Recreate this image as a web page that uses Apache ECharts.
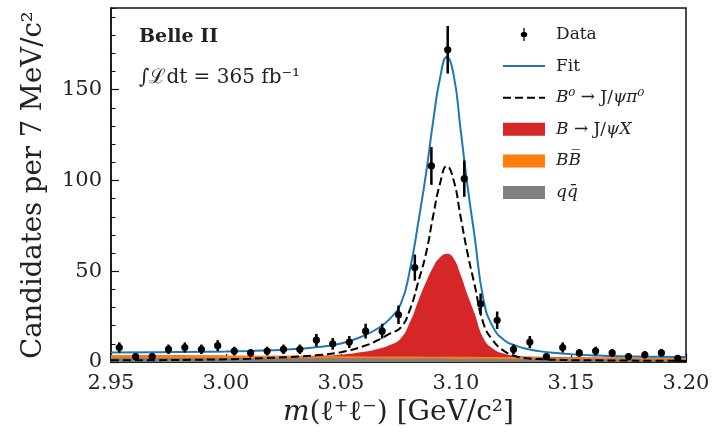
<!DOCTYPE html>
<html>
<head>
<meta charset="utf-8">
<script src="https://cdn.jsdelivr.net/npm/echarts@6/dist/echarts.min.js"></script>
<style>html,body{margin:0;padding:0;background:#fff}#c{width:720px;height:442px}</style>
</head>
<body>
<div id="c"></div>
<script>
// ---- Data ----
const binCenters = [2.9536,2.9607,2.9679,2.9750,2.9821,2.9893,2.9964,3.0036,3.0107,3.0179,3.0250,3.0321,3.0393,3.0464,3.0536,3.0607,3.0679,3.0750,3.0821,3.0893,3.0964,3.1036,3.1107,3.1179,3.1250,3.1321,3.1393,3.1464,3.1536,3.1607,3.1679,3.1750,3.1821,3.1893,3.1964];
const counts = [8,3,3,7,8,7,9,6,5,6,7,7,12,10,11,17,17,26,52,108,172,101,32,23,7,11,3,8,5,6,5,3,4,5,2];
const countErrors = [2.8,1.7,1.7,2.6,2.8,2.6,3.0,2.4,2.2,2.4,2.6,2.6,3.5,3.2,3.3,4.1,4.1,5.1,7.2,10.4,13.1,10.0,5.7,4.8,2.6,3.3,1.7,2.8,2.2,2.4,2.2,1.7,2.0,2.2,1.4];

const curveX = [2.95,2.97,2.99,3.00,3.01,3.02,3.03,3.04,3.05,3.06,3.066,3.071,3.076,3.080,3.084,3.087,3.090,3.093,3.096,3.099,3.102,3.105,3.108,3.112,3.116,3.121,3.126,3.131,3.136,3.141,3.151,3.161,3.171,3.185,3.20];
const fitTotal = [5.3,5.4,5.6,5.8,6.1,6.5,7.1,8.2,10.2,14.5,18.5,23.5,32,51,80,104,132,156,168,158,128,97,70,34,19.5,12,9,7.2,6.0,5.2,4.2,3.6,3.2,2.9,2.7];
const signalPi0 = [0.9,1.0,1.3,1.5,1.8,2.3,2.9,3.8,5.4,8.8,12,15.5,19,29,46,60,80,98,108,100,80,60,43,21,12,6,3.2,2.0,1.6,1.3,1.0,0.9,0.8,0.7,0.6];

const inclX = [2.95,3.00,3.03,3.04,3.05,3.06,3.066,3.071,3.076,3.080,3.084,3.087,3.090,3.093,3.096,3.099,3.102,3.105,3.108,3.112,3.116,3.121,3.126,3.131,3.14,3.20];
const inclTop = [3.8,3.5,3.4,3.5,4.0,5.6,7.2,9.2,13,22,35,44,52,57.5,59.6,57,48,37,27,13,7.5,4.5,3.4,3.0,2.8,2.2];

const bkgX = [2.95,3.00,3.05,3.10,3.15,3.20];
const bbTop = [3.8,3.5,3.2,2.9,2.5,2.2];
const qqTop = [2.4,2.2,2.0,1.8,1.5,1.3];

const xRange = [2.95, 3.20];
const yRange = [0, 195];

// ---- build ----
const pairs = (xs, ys) => xs.map((x, i) => [x, ys[i]]);
const dataPts = binCenters.map((x, i) => [x, counts[i], countErrors[i]]);
const serif = 'DejaVu Serif';

const chart = echarts.init(document.getElementById('c'), null, {renderer: 'canvas'});
chart.setOption({
  animation: false,
  backgroundColor: '#fff',
  grid: {left: 111, right: 34, top: 8, bottom: 80, show: true, borderColor: '#111', borderWidth: 1.5, backgroundColor: 'transparent'},
  xAxis: {
    type: 'value', min: xRange[0], max: xRange[1], interval: 0.05,
    name: '{i|m}(ℓ⁺ℓ⁻) [GeV/c²]', nameLocation: 'middle', nameGap: 36,
    nameTextStyle: {fontFamily: serif, fontSize: 28, color: '#222', rich: {i: {fontFamily: serif, fontStyle: 'italic', fontSize: 28, color: '#222'}}},
    axisLine: {show: true, lineStyle: {color: '#111', width: 1.5}},
    axisTick: {show: true, inside: true, length: 8, lineStyle: {color: '#111', width: 1.2}},
    minorTick: {show: true, splitNumber: 5, length: 4.5, lineStyle: {color: '#111', width: 1}},
    axisLabel: {fontFamily: serif, fontSize: 21, color: '#222', margin: 11, formatter: v => v.toFixed(2)},
    splitLine: {show: false}
  },
  yAxis: [{
    type: 'value', min: yRange[0], max: yRange[1], interval: 50,
    name: 'Candidates per 7 MeV/c²', nameLocation: 'middle', nameGap: 63,
    nameTextStyle: {fontFamily: serif, fontSize: 27.5, color: '#222'},
    axisLine: {show: true, lineStyle: {color: '#111', width: 1.5}},
    axisTick: {show: true, inside: true, length: 8, lineStyle: {color: '#111', width: 1.2}},
    axisLabel: {fontFamily: serif, fontSize: 21, color: '#222', margin: 9, showMaxLabel: false},
    splitLine: {show: false}
  }, {
    type: 'value', min: yRange[0], max: yRange[1], interval: 10, position: 'left',
    axisLine: {show: false},
    axisTick: {show: true, inside: true, length: 4.5, lineStyle: {color: '#111', width: 1}},
    axisLabel: {show: false}, splitLine: {show: false}
  }],
  legend: {
    orient: 'vertical', left: 497, top: 21, itemWidth: 42, itemHeight: 13, itemGap: 14.6,
    textStyle: {fontFamily: serif, fontSize: 17, color: '#222', padding: [0, 0, 0, 6],
      rich: {i: {fontFamily: serif, fontStyle: 'italic', fontSize: 17, color: '#222'}}},
    formatter: n => ({
      Data: 'Data', Fit: 'Fit',
      B0pi0: '{i|B⁰} → J/{i|ψπ⁰}',
      BX: '{i|B} → J/{i|ψX}',
      BB: '{i|BB\u0305}',
      qq: '{i|qq\u0304}'
    })[n],
    data: [
      {name: 'Data', icon: 'path://M3,0 L5,0 L5,6 A3.5,3.5 0 0 1 5,14 L5,20 L3,20 L3,14 A3.5,3.5 0 0 1 3,6 Z', itemStyle: {color: '#000'}},
      {name: 'Fit', itemStyle: {opacity: 0}},
      {name: 'B0pi0', itemStyle: {opacity: 0}},
      {name: 'BX', icon: 'rect', itemStyle: {color: '#d62728'}},
      {name: 'BB', icon: 'rect', itemStyle: {color: '#ff7f0e'}},
      {name: 'qq', icon: 'rect', itemStyle: {color: '#7f7f7f'}}
    ]
  },
  graphic: [
    {type: 'text', left: 139, top: 28, style: {text: 'Belle II', font: 'bold 19px "DejaVu Serif"', fill: '#222'}},
    {type: 'text', left: 139, top: 68, style: {text: '∫ℒdt = 365 fb⁻¹', font: '20px "DejaVu Serif"', fill: '#222'}}
  ],
  series: [
    {name: 'BX', type: 'line', data: pairs(inclX, inclTop), symbol: 'none', smooth: 0.5,
      color: '#d62728', lineStyle: {width: 0}, areaStyle: {color: '#d62728', opacity: 1}, z: 2},
    {name: 'BB', type: 'line', data: pairs(bkgX, bbTop), symbol: 'none', smooth: 0.3,
      color: '#ff7f0e', lineStyle: {width: 0}, areaStyle: {color: '#ff7f0e', opacity: 1}, z: 3},
    {name: 'qq', type: 'line', data: pairs(bkgX, qqTop), symbol: 'none', smooth: 0.3,
      color: '#7f7f7f', lineStyle: {width: 0}, areaStyle: {color: '#7f7f7f', opacity: 1}, z: 4},
    {name: 'B0pi0', type: 'line', data: pairs(curveX, signalPi0), symbol: 'none', smooth: 0.5,
      color: '#000', lineStyle: {color: '#000', width: 2, type: [8, 4]}, z: 5},
    {name: 'Fit', type: 'line', data: pairs(curveX, fitTotal), symbol: 'none', smooth: 0.5,
      color: '#1f77b4', lineStyle: {color: '#1f77b4', width: 2}, z: 6},
    {name: 'Data', type: 'custom', data: dataPts, encode: {x: 0, y: 1}, z: 10, color: '#000',
      renderItem: (params, api) => {
        const x = api.value(0), y = api.value(1), e = api.value(2);
        const p = api.coord([x, y]);
        const t = api.coord([x, y + e]);
        const b = api.coord([x, Math.max(y - e, 0)]);
        return {type: 'group', children: [
          {type: 'line', shape: {x1: p[0], y1: t[1], x2: p[0], y2: b[1]}, style: {stroke: '#000', lineWidth: 2.5}},
          {type: 'circle', shape: {cx: p[0], cy: p[1], r: 3.6}, style: {fill: '#000'}}
        ]};
      }}
  ]
});
</script>
</body>
</html>
